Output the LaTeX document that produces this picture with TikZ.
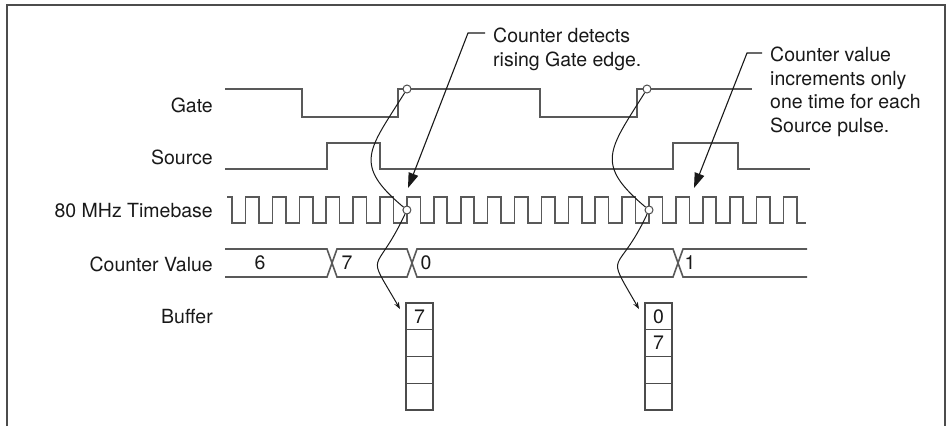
\documentclass[tikz,border=0pt]{standalone}
\usepackage{fontspec}
\setmainfont{TeX Gyre Heros}
\usetikzlibrary{arrows.meta}

\begin{document}
\begin{tikzpicture}[x=1pt,y=1pt,
  every node/.append style={font=\fontsize{19.5}{23.5}\selectfont,text=black!90},
  wave/.style={line width=1.6pt,draw=black!65},
  leader/.style={line width=1.1pt,draw=black!90,-{Triangle[length=15pt,width=10pt]}},
  hop/.style={line width=1pt,draw=black!90,-{Stealth[length=7pt,width=5pt]}},
  ring/.style={circle,draw=black!70,fill=white,line width=1pt,inner sep=0pt,minimum size=8pt},
  cell/.style={draw=black!70,line width=1.3pt,minimum width=27pt,minimum height=26.75pt,inner sep=0pt,outer sep=0pt},
  lbl/.style={anchor=east,inner sep=0pt}]
\useasboundingbox (0,0) rectangle (947,-426);

% Frame
\draw[line width=1.8pt,black!70] (7,-426) -- (7,-5) -- (945,-5) -- (945,-426);

% Signal names
\node[lbl] (gate) at (213,-105) {Gate};
\node[lbl] (source) at (213,-157) {Source};
\node[lbl] (timebase) at (213,-211) {80 MHz Timebase};
\node[lbl] (value) at (213,-264) {Counter Value};
\node[lbl] (buffer) at (213,-317) {Buffer};

% Gate
\draw[wave] (225,-89) -| (302,-117) -| (398,-89) -| (540,-117) -| (637,-89) -- (752,-89);

% Source
\draw[wave] (225,-169) -| (327,-143) -| (380,-169) -| (673,-143) -| (738,-169) -- (810,-169);

% 80 MHz timebase
\draw[wave] (227,-197)
  \foreach \k in {0,...,20} {
    -- ({232+26.9*\k},-197) -- ({232+26.9*\k},-223)
    -- ({245.5+26.9*\k},-223) -- ({245.5+26.9*\k},-197)}
  -- (797,-197) -- (797,-223) -- (806,-223);

% Counter value
\draw[wave] (225,-249) -- (327,-249) -- (337,-277) -- (407,-277) -- (417,-249)
  -- (673,-249) -- (683,-277) -- (807,-277);
\draw[wave] (225,-277) -- (327,-277) -- (337,-249) -- (407,-249) -- (417,-277)
  -- (673,-277) -- (683,-249) -- (807,-249);
\node (cv6) at (260,-263) {6};
\node (cv7) at (347,-263) {7};
\node (cv0) at (426,-263) {0};
\node (cv1) at (690,-263) {1};

% Buffers
\foreach \i/\v in {0/7,1/{},2/{},3/{}}
  \node[cell] (bufA\i) at (419.5,{-316.4-26.75*\i}) {\v};
\foreach \i/\v in {0/0,1/7,2/{},3/{}}
  \node[cell] (bufB\i) at (658.5,{-316.4-26.75*\i}) {\v};

% Edge markers
\node[ring] (gateA) at (407,-89) {};
\node[ring] (gateB) at (647,-89) {};
\node[ring] (tbA) at (406.9,-210) {};
\node[ring] (tbB) at (649,-210) {};

% Latching the count into the buffer
\draw[hop] (gateA) to[out=238,in=140,looseness=1.5] (tbA)
  to[out=245,in=120,looseness=1.9] ([shift={(-6,-6)}]bufA0.north west);
\draw[hop] (gateB) to[out=238,in=140,looseness=1.5] (tbB)
  to[out=245,in=120,looseness=1.9] ([shift={(-6,-6)}]bufB0.north west);

% Notes
\node[anchor=north west,align=left,inner sep=0pt] (noteGate) at (493,-28)
  {Counter detects\\rising Gate edge.};
\node[anchor=north west,align=left,inner sep=0pt] (noteCount) at (770,-47)
  {Counter value\\increments only\\one time for each\\Source pulse.};
\coordinate (kneeA) at (468,-33);
\coordinate (tipA) at (408,-188);
\coordinate (kneeB) at (747,-53);
\coordinate (tipB) at (694,-188);
\draw[leader] (noteGate.north west) ++(-8,-5) -- (kneeA) -- (tipA);
\draw[leader] (noteCount.north west) ++(-8,-6) -- (kneeB) -- (tipB);
\end{tikzpicture}
\end{document}
